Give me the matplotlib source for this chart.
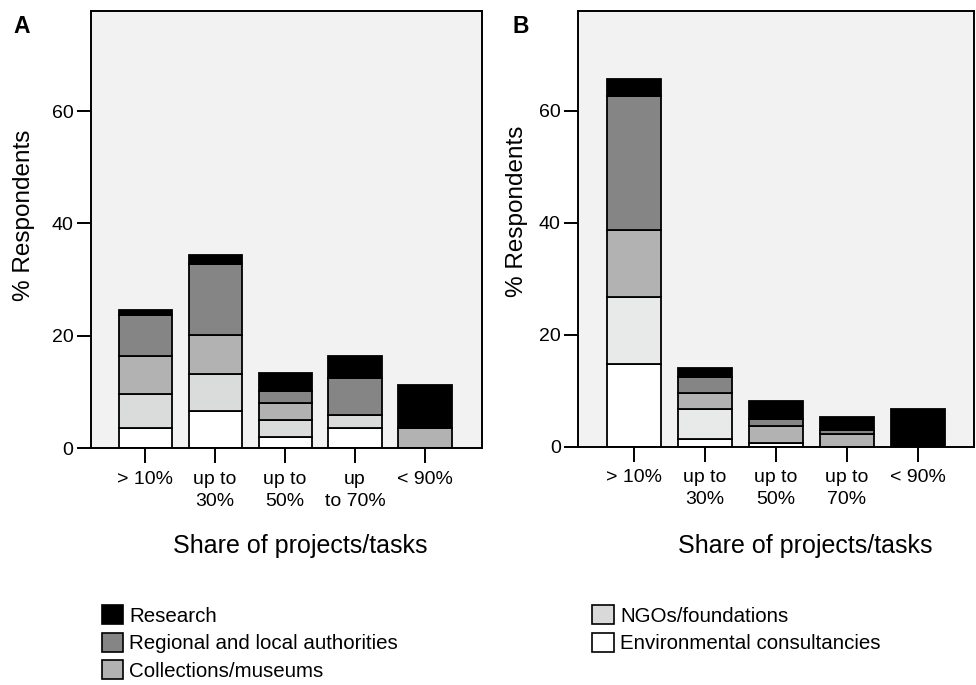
import numpy as np
import matplotlib
matplotlib.use("Agg")
import matplotlib.pyplot as plt
from matplotlib.patches import Patch

plt.rcParams['font.family'] = ['Liberation Sans', 'DejaVu Sans']

# share of projects/tasks categories
labels_a = ['> 10%', 'up to\n30%', 'up to\n50%', 'up\nto 70%', '< 90%']
labels_b = ['> 10%', 'up to\n30%', 'up to\n50%', 'up to\n70%', '< 90%']

series = ['Environmental consultancies', 'NGOs/foundations', 'Collections/museums',
          'Regional and local authorities', 'Research']

# panel A segment heights (% respondents), bottom to top
env_a = [3.7, 6.6, 2.1, 3.7, 0.0]
ngo_a = [6.0, 6.7, 3.0, 2.3, 0.0]
col_a = [6.7, 6.8, 3.0, 0.0, 3.7]
reg_a = [7.4, 12.7, 2.1, 6.6, 0.0]
res_a = [0.8, 1.6, 3.2, 3.8, 7.5]

# panel B segment heights (% respondents), bottom to top
env_b = [14.85, 1.4, 0.7, 0.0, 0.0]
ngo_b = [11.85, 5.25, 0.0, 0.0, 0.0]
col_b = [12.0, 3.0, 3.0, 2.3, 0.0]
reg_b = [23.9, 2.8, 1.3, 0.6, 0.0]
res_b = [3.0, 1.6, 3.2, 2.4, 6.7]

yticks = [0, 20, 40, 60]

c_env = '#ffffff'
c_col = '#b2b2b2'
c_reg = '#858585'
c_res = '#000000'


def draw_panel(ax, data, ngo_color, labels, xlim):
    x = np.arange(len(labels))
    colors = [c_env, ngo_color, c_col, c_reg, c_res]
    bottom = np.zeros(len(labels))
    for vals, col in zip(data, colors):
        vals = np.array(vals)
        ax.bar(x, vals, width=0.76, bottom=bottom, color=col,
               edgecolor='black', linewidth=1.3, zorder=2)
        bottom += vals
    ax.set_facecolor('#f2f2f2')
    ax.set_xlim(*xlim)
    ax.set_ylim(0, 77.8)
    ax.set_xticks(x)
    ax.set_xticklabels(labels, fontsize=14, linespacing=1.4)
    ax.set_yticks(yticks)
    ax.tick_params(axis='y', labelsize=14, length=10, width=1.4, pad=2.5)
    ax.tick_params(axis='x', length=10.5, width=1.4, pad=5.5)
    for sp in ax.spines.values():
        sp.set_linewidth(1.4)
    ax.set_ylabel('% Respondents', fontsize=17.5)
    ax.set_xlabel('Share of projects/tasks', fontsize=18)


fig = plt.figure(figsize=(9.76, 6.85), dpi=100)
ax_a = fig.add_axes([0.0929, 0.3455, 0.4006, 0.6384])
ax_b = fig.add_axes([0.5922, 0.3479, 0.4057, 0.6360])

draw_panel(ax_a, [env_a, ngo_a, col_a, reg_a, res_a], '#dadcdc', labels_a, (-0.78, 4.81))
draw_panel(ax_b, [env_b, ngo_b, col_b, reg_b, res_b], '#e8eaea', labels_b, (-0.79, 4.79))

# axis label placement, in axes coordinates
ax_a.xaxis.set_label_coords((300 - 90.7) / 391.0, -(546 - 448.3) / 437.3)
ax_a.xaxis.label.set_va('center')
ax_b.xaxis.set_label_coords((805 - 578) / 396.0, -(546 - 446.7) / 435.7)
ax_b.xaxis.label.set_va('center')
ax_a.yaxis.set_label_coords(-(90.7 - 24) / 391.0, (448.3 - 215.5) / 437.3)
ax_a.yaxis.label.set_va('center')
ax_b.yaxis.set_label_coords(-(578 - 517) / 396.0, (446.7 - 211) / 435.7)
ax_b.yaxis.label.set_va('center')

fig.text(13 / 976, 1 - 33 / 685, 'A', fontsize=16.5, fontweight='bold', va='baseline')
fig.text(512 / 976, 1 - 33 / 685, 'B', fontsize=16.5, fontweight='bold', va='baseline')

legend_colors = {'Research': c_res, 'Regional and local authorities': c_reg,
                 'Collections/museums': c_col, 'NGOs/foundations': '#d9d9d9',
                 'Environmental consultancies': c_env}
left_names = ['Research', 'Regional and local authorities', 'Collections/museums']
right_names = ['NGOs/foundations', 'Environmental consultancies']

for names, xpos in [(left_names, 101.7), (right_names, 592.3)]:
    handles = [Patch(facecolor=legend_colors[n], edgecolor='black', linewidth=1.2, label=n)
               for n in names]
    fig.legend(handles=handles, loc='upper left',
               bbox_to_anchor=(xpos / 976, 1 - 605 / 685),
               frameon=False, fontsize=14.8, handlelength=1.05, handleheight=1.05,
               handletextpad=0.3, labelspacing=0.34, borderpad=0, borderaxespad=0)

fig.savefig('out.png', dpi=100)
